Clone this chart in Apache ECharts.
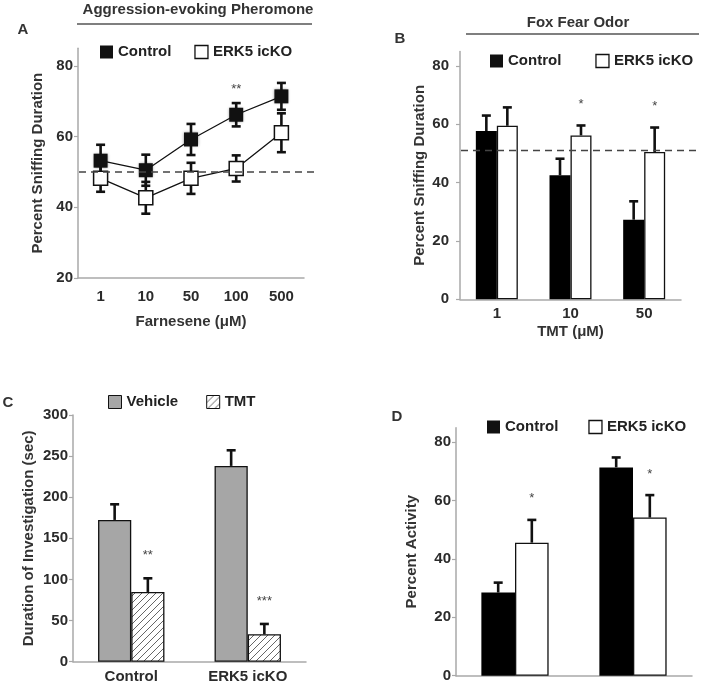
<!DOCTYPE html>
<html>
<head>
<meta charset="utf-8">
<script src="https://cdn.jsdelivr.net/npm/echarts@6/dist/echarts.min.js"></script>
<style>
  html, body { margin: 0; padding: 0; background: #fff; }
  #fig { width: 704px; height: 686px; }
</style>
</head>
<body>
<div id="fig"></div>
<script>
  // A: aggression-evoking pheromone (farnesene)
  const farnesene = ['1', '10', '50', '100', '500']
  const aControl = [53.2, 50.5, 59.2, 66.2, 71.4]
  const aControlErr = [4.5, 4.4, 4.4, 3.3, 3.8]
  const aKO = [48.2, 42.7, 48.2, 51.0, 61.1]
  const aKOErr = [3.8, 4.5, 4.4, 3.7, 5.5]
  const aSig = ['', '', '', '**', '']
  const aChance = 50
  const aTicks = [20, 40, 60, 80]

  // B: fox fear odor (TMT)
  const tmtDoses = ['1', '10', '50']
  const bControl = [57.7, 42.5, 27.3]
  const bControlErr = [5.3, 5.7, 6.3]
  const bKO = [59.5, 56.2, 50.5]
  const bKOErr = [6.3, 3.4, 8.4]
  const bSig = ['', '*', '*']
  const bChance = 51
  const bTicks = [0, 20, 40, 60, 80]

  // C: investigation time
  const genotypes = ['Control', 'ERK5 icKO']
  const cVehicle = [172.4, 238.1]
  const cVehicleErr = [19, 19]
  const cTMT = [84.8, 33.3]
  const cTMTErr = [16.6, 12.6]
  const cSig = ['**', '***']
  const cTicks = [0, 50, 100, 150, 200, 250, 300]

  // D: activity (group labels are cut off in the figure)
  const dGroups = ['group 1', 'group 2']
  const dControl = [28.5, 71.4]
  const dControlErr = [3.4, 3.4]
  const dKO = [45.6, 54.2]
  const dKOErr = [7.8, 7.7]
  const dSig = ['', '*']
  const dSigKO = ['*', '*']
  const dTicks = [0, 20, 40, 60, 80]

  const FONT = '"Liberation Sans", Arial, sans-serif'
  const BAR_GAP = 0.43
  const AXIS_GREY = '#a9a9a9'
  const INK = '#111'

  // 斜线填充
  function hatch () {
    const c = document.createElement('canvas')
    c.width = 7
    c.height = 7
    const g = c.getContext('2d')
    g.fillStyle = '#fff'
    g.fillRect(0, 0, 7, 7)
    g.strokeStyle = '#555'
    g.lineWidth = 0.9
    g.beginPath()
    g.moveTo(0, 7); g.lineTo(7, 0)
    g.moveTo(-2, 2); g.lineTo(2, -2)
    g.moveTo(5, 9); g.lineTo(9, 5)
    g.stroke()
    return c
  }
  const hatchFill = { image: hatch(), repeat: 'repeat' }

  function errorSeries (ax, values, errs, slot, both, sigs, starGap) {
    return {
      type: 'custom',
      xAxisIndex: ax,
      yAxisIndex: ax,
      z: 4,
      silent: true,
      data: values.map((v, i) => [i, v, errs[i]]),
      renderItem: function (params, api) {
        const i = api.value(0)
        const v = api.value(1)
        const e = api.value(2)
        const band = api.size([1, 0])[0]
        const barW = band * (1 - BAR_GAP) / 2
        const mid = api.coord([i, v])
        const x = mid[0] + slot * barW
        const top = api.coord([i, v + e])[1]
        const bot = both ? api.coord([i, v - e])[1] : mid[1]
        const st = { stroke: INK, lineWidth: 2.6 }
        const kids = [
          { type: 'line', shape: { x1: x, y1: top, x2: x, y2: bot }, style: st },
          { type: 'line', shape: { x1: x - 4.5, y1: top, x2: x + 4.5, y2: top }, style: st }
        ]
        if (both) {
          kids.push({ type: 'line', shape: { x1: x - 4.5, y1: bot, x2: x + 4.5, y2: bot }, style: st })
        }
        const s = sigs && sigs[params.dataIndex]
        if (s) {
          kids.push({
            type: 'text',
            style: {
              text: s, x: x, y: top - starGap + 3,
              textAlign: 'center', textVerticalAlign: 'middle',
              align: 'center', verticalAlign: 'middle',
              font: '13px ' + FONT, fill: '#444'
            }
          })
        }
        return { type: 'group', children: kids }
      }
    }
  }

  // 虚线参考线
  function chanceLine (ax, value, extra) {
    return {
      type: 'custom',
      xAxisIndex: ax,
      yAxisIndex: ax,
      z: 6,
      silent: true,
      data: [[0, value]],
      renderItem: function (params, api) {
        const cs = params.coordSys
        const y = api.coord([0, api.value(1)])[1]
        return {
          type: 'line',
          shape: { x1: cs.x + 1, y1: y, x2: cs.x + cs.width + extra, y2: y },
          style: { stroke: '#444', lineWidth: 1.4, lineDash: [7, 5] }
        }
      }
    }
  }

  function xAxisCfg (grid, data, name, nameGap, margin, showLabel) {
    return {
      gridIndex: grid,
      type: 'category',
      data: data,
      name: name,
      nameLocation: 'middle',
      nameGap: nameGap,
      nameTextStyle: { color: '#333', fontWeight: 'bold', fontSize: 15, fontFamily: FONT },
      axisLine: { lineStyle: { color: AXIS_GREY, width: 1.5 } },
      axisTick: { length: 5, lineStyle: { color: AXIS_GREY, width: 1.2 } },
      axisLabel: { show: showLabel, color: '#2b2b2b', fontWeight: 'bold', fontSize: 15, fontFamily: FONT, margin: margin }
    }
  }

  function yAxisCfg (grid, min, max, ticks, name, nameGap, margin) {
    return {
      gridIndex: grid,
      type: 'value',
      min: min,
      max: max,
      name: name,
      nameLocation: 'middle',
      nameGap: nameGap,
      nameTextStyle: { color: '#333', fontWeight: 'bold', fontSize: 15, fontFamily: FONT },
      splitLine: { show: false },
      axisLine: { show: true, lineStyle: { color: AXIS_GREY, width: 1.5 } },
      axisTick: { show: true, length: 4, customValues: ticks, lineStyle: { color: AXIS_GREY, width: 1.2 } },
      axisLabel: { customValues: ticks, color: '#2b2b2b', fontWeight: 'bold', fontSize: 15, fontFamily: FONT, margin: margin }
    }
  }

  function legendCfg (left, top, gap, items) {
    return {
      left: left,
      top: top,
      padding: 0,
      itemGap: gap,
      itemWidth: 13,
      itemHeight: 13,
      icon: 'rect',
      selectedMode: false,
      textStyle: { color: '#222', fontWeight: 'bold', fontSize: 15, fontFamily: FONT, lineHeight: 15 },
      data: items
    }
  }

  function panelText (text, x, y) {
    return {
      type: 'text',
      x: x,
      y: y,
      style: {
        text: text, textAlign: 'center', textVerticalAlign: 'middle',
        align: 'center', verticalAlign: 'middle',
        font: 'bold 15px ' + FONT, fill: '#333'
      }
    }
  }

  function rule (x1, x2, y) {
    return { type: 'line', shape: { x1: x1, y1: y, x2: x2, y2: y }, style: { stroke: '#555', lineWidth: 1.5 } }
  }

  const koStyle = { color: '#fff', borderColor: INK, borderWidth: 1.3 }

  const option = {
    backgroundColor: '#fff',
    animation: false,
    textStyle: { fontFamily: FONT },
    grid: [
      { left: 78, top: 48.3, width: 226, height: 229.7, outerBoundsMode: 'none' },
      { left: 460, top: 51.4, width: 221, height: 247.9, outerBoundsMode: 'none' },
      { left: 73, top: 415, width: 233, height: 246.7, outerBoundsMode: 'none' },
      { left: 456, top: 427.7, width: 236, height: 248, outerBoundsMode: 'none' }
    ],
    xAxis: [
      xAxisCfg(0, farnesene, 'Farnesene (\u03bcM)', 36, 11, true),
      xAxisCfg(1, tmtDoses, 'TMT (\u03bcM)', 25.5, 7, true),
      xAxisCfg(2, genotypes, '', 0, 8, true),
      xAxisCfg(3, dGroups, '', 0, 8, false)
    ],
    yAxis: [
      yAxisCfg(0, 20, 85, aTicks, 'Percent Sniffing Duration', 33, 5),
      yAxisCfg(1, 0, 85, bTicks, 'Percent Sniffing Duration', 33, 11),
      yAxisCfg(2, 0, 300, cTicks, 'Duration of Investigation (sec)', 37, 5),
      yAxisCfg(3, 0, 85, dTicks, 'Percent Activity', 37, 5)
    ],
    legend: [
      legendCfg(100, 44.5, 23, [
        { name: 'Control', itemStyle: { color: INK } },
        { name: 'ERK5 icKO', itemStyle: koStyle }
      ]),
      legendCfg(490, 53.5, 34, [
        { name: 'Control', itemStyle: { color: INK } },
        { name: 'ERK5 icKO', itemStyle: koStyle }
      ]),
      legendCfg(108, 394.5, 28, [
        { name: 'Vehicle', itemStyle: { color: '#a6a6a6', borderColor: INK, borderWidth: 1 } },
        { name: 'TMT', itemStyle: { color: hatchFill, borderColor: INK, borderWidth: 1 } }
      ]),
      legendCfg(487, 419.5, 30, [
        { name: 'Control', itemStyle: { color: INK } },
        { name: 'ERK5 icKO', itemStyle: koStyle }
      ])
    ],
    graphic: [
      panelText('Aggression-evoking Pheromone', 198, 9.5),
      rule(77, 312, 24),
      panelText('A', 23, 30),
      panelText('Fox Fear Odor', 578, 23),
      rule(466, 699, 34),
      panelText('B', 400, 39),
      panelText('C', 8, 403),
      panelText('D', 397, 417)
    ],
    series: [
      // A
      errorSeries(0, aControl, aControlErr, 0, true, aSig, 17),
      errorSeries(0, aKO, aKOErr, 0, true, null, 0),
      {
        type: 'line', name: 'Control', xAxisIndex: 0, yAxisIndex: 0, z: 5,
        data: aControl, symbol: 'rect', symbolSize: 14,
        itemStyle: { color: INK, shadowBlur: 3, shadowColor: 'rgba(0,0,0,0.45)' },
        lineStyle: { color: INK, width: 1.3 }
      },
      {
        type: 'line', name: 'ERK5 icKO', xAxisIndex: 0, yAxisIndex: 0, z: 5,
        data: aKO, symbol: 'rect', symbolSize: 14,
        itemStyle: { color: '#fff', borderColor: INK, borderWidth: 1.5 },
        lineStyle: { color: INK, width: 1.3 }
      },
      chanceLine(0, aChance, 11),
      // B
      {
        type: 'bar', name: 'Control', xAxisIndex: 1, yAxisIndex: 1,
        data: bControl, barGap: 0, barCategoryGap: '43%',
        itemStyle: { color: '#000' }
      },
      {
        type: 'bar', name: 'ERK5 icKO', xAxisIndex: 1, yAxisIndex: 1,
        data: bKO, barGap: 0, barCategoryGap: '43%',
        itemStyle: koStyle
      },
      errorSeries(1, bControl, bControlErr, -0.5, false, null, 0),
      errorSeries(1, bKO, bKOErr, 0.5, false, bSig, 24),
      chanceLine(1, bChance, 18),
      // C
      {
        type: 'bar', name: 'Vehicle', xAxisIndex: 2, yAxisIndex: 2,
        data: cVehicle, barGap: 0, barCategoryGap: '43%',
        itemStyle: { color: '#a6a6a6', borderColor: INK, borderWidth: 1.3 }
      },
      {
        type: 'bar', name: 'TMT', xAxisIndex: 2, yAxisIndex: 2,
        data: cTMT, barGap: 0, barCategoryGap: '43%',
        itemStyle: { color: hatchFill, borderColor: INK, borderWidth: 1.3 }
      },
      errorSeries(2, cVehicle, cVehicleErr, -0.5, false, null, 0),
      errorSeries(2, cTMT, cTMTErr, 0.5, false, cSig, 26),
      // D
      {
        type: 'bar', name: 'Control', xAxisIndex: 3, yAxisIndex: 3,
        data: dControl, barGap: 0, barCategoryGap: '43%',
        itemStyle: { color: '#000' }
      },
      {
        type: 'bar', name: 'ERK5 icKO', xAxisIndex: 3, yAxisIndex: 3,
        data: dKO, barGap: 0, barCategoryGap: '43%',
        itemStyle: koStyle
      },
      errorSeries(3, dControl, dControlErr, -0.5, false, null, 0),
      errorSeries(3, dKO, dKOErr, 0.5, false, dSigKO, 24)
    ]
  }

  const chart = echarts.init(document.getElementById('fig'))
  chart.setOption(option)
</script>
</body>
</html>
